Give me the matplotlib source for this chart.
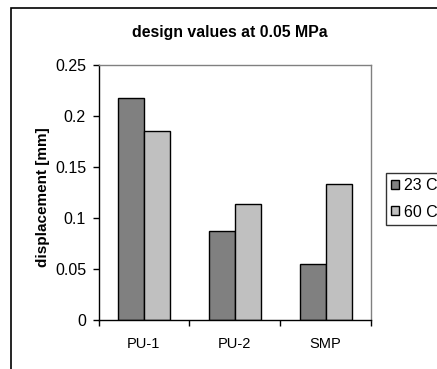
import matplotlib
matplotlib.use("Agg")
import matplotlib.pyplot as plt
import matplotlib.patches as mpatches
import numpy as np

categories = ["PU-1", "PU-2", "SMP"]
series_names = ["23 C", "60 C"]
values_23 = [0.218, 0.087, 0.055]
values_60 = [0.185, 0.114, 0.133]
y_ticks = [0, 0.05, 0.1, 0.15, 0.2, 0.25]
y_tick_labels = ["0", "0.05", "0.1", "0.15", "0.2", "0.25"]
title = "design values at 0.05 MPa"
ylabel = "displacement [mm]"

plt.rcParams['font.family'] = ['Liberation Sans', 'DejaVu Sans']

W, H = 437, 369
fig = plt.figure(figsize=(W / 100, H / 100), dpi=100)
fig.patch.set_facecolor("white")

# outer chart-area frame (extends beyond right/bottom edges)
frame = mpatches.Rectangle((11 / W, -0.2), 1.5, (1 - 8 / H) + 0.2,
                           transform=fig.transFigure, fill=False,
                           edgecolor="black", linewidth=1.2, clip_on=False)
fig.patches.append(frame)

ax = fig.add_axes([98.5 / W, 1 - 320 / H, (371 - 98.5) / W, (320 - 65) / H])

x = np.arange(len(categories))
bw = 1 / 3.5
c1, c2 = "#808080", "#c0c0c0"
b1 = ax.bar(x - bw / 2, values_23, bw, color=c1, edgecolor="black", linewidth=1.0, label=series_names[0])
b2 = ax.bar(x + bw / 2, values_60, bw, color=c2, edgecolor="black", linewidth=1.0, label=series_names[1])

ax.set_xlim(-0.5, 2.5)
ax.set_ylim(0, 0.25)
ax.set_yticks(y_ticks)
ax.set_yticklabels(y_tick_labels, fontsize=11.5)
ax.tick_params(axis="y", direction="out", length=4, width=1, pad=5)

ax.set_xticks([-0.5, 0.5, 1.5, 2.5])
ax.set_xticklabels([])
ax.tick_params(axis="x", which="major", direction="out", length=4, width=1)
ax.set_xticks(x, minor=True)
ax.set_xticklabels(categories, minor=True, fontsize=10.5)
ax.tick_params(axis="x", which="minor", length=0, pad=12)

for s in ["left", "bottom"]:
    ax.spines[s].set_color("black")
    ax.spines[s].set_linewidth(1.0)
for s in ["top", "right"]:
    ax.spines[s].set_color("#808080")
    ax.spines[s].set_linewidth(1.0)

ax.set_ylabel(ylabel, fontsize=11, fontweight="bold")
ax.yaxis.set_label_coords((50 - 98.5) / (371 - 98.5), 0.482)

fig.text(230 / W, 1 - 32 / H, title, ha="center", va="center",
         fontsize=11.4, fontweight="bold")

leg = fig.legend(handles=[b1, b2], labels=series_names,
                 loc="upper left", bbox_to_anchor=(385.7 / W, 1 - 172.5 / H),
                 fontsize=11.5, frameon=True, fancybox=False,
                 handlelength=0.5, handleheight=0.5, handletextpad=0.3,
                 borderpad=0.35, labelspacing=0.72, borderaxespad=0)
leg.get_frame().set_edgecolor("black")
leg.get_frame().set_linewidth(1.0)

fig.savefig("out.png", dpi=100)
